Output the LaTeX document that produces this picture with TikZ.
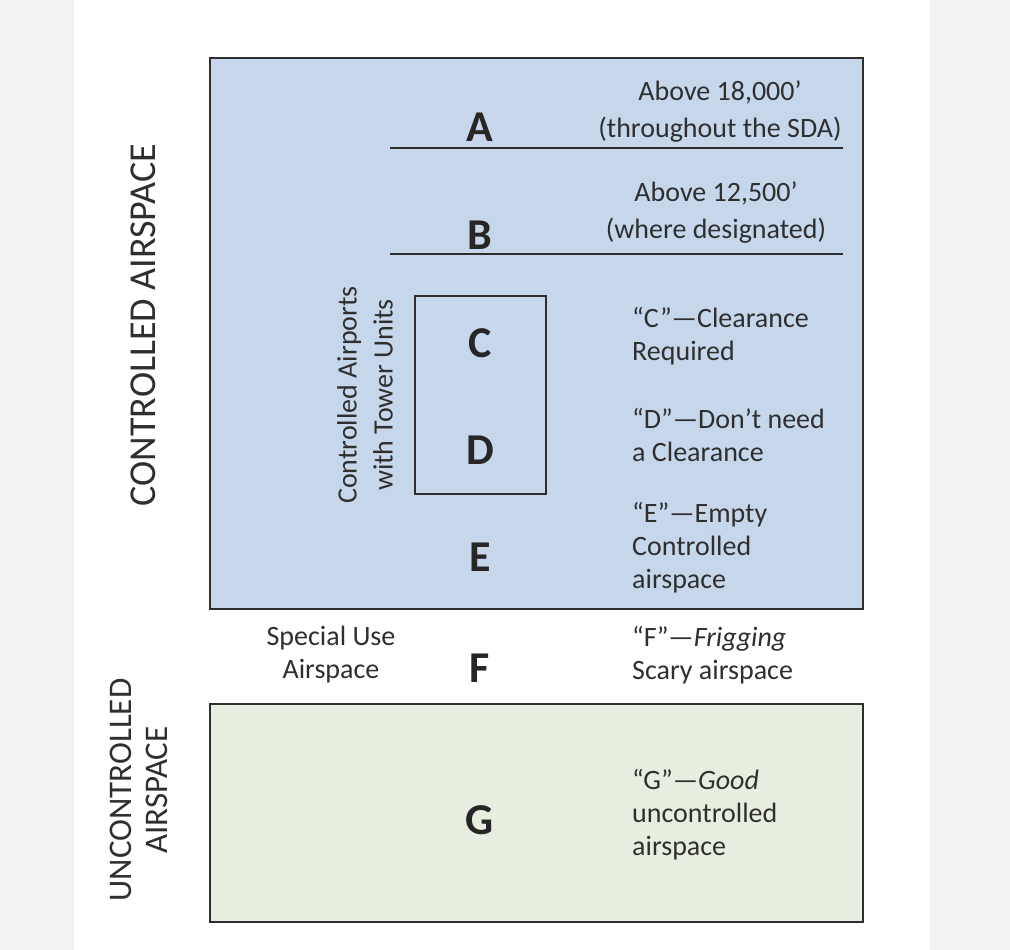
\documentclass[tikz,border=0pt]{standalone}
\usepackage{fontspec}
\setmainfont{Carlito}
\definecolor{pagegray}{HTML}{F1F2F4}
\definecolor{ctrlblue}{HTML}{C6D7EC}
\definecolor{uncgreen}{HTML}{E8EEDF}
\definecolor{inkgray}{HTML}{2F2F2F}
\definecolor{edgegray}{HTML}{2E2E2E}
\begin{document}
\begin{tikzpicture}
[x=1pt, y=-1pt,
 nodes={inner sep=0pt, text=inkgray, font=\fontsize{28}{33}\selectfont},
 letter/.style={font=\fontsize{44}{44}\selectfont\bfseries, text=black!85},
 note/.style={anchor=west, align=left},
 band/.style={line width=1.6pt, draw=edgegray},
 sideword/.style={rotate=90, align=center, font=\fontsize{38}{40}\selectfont}]
% page and margins
\fill[pagegray] (0,0) rectangle (1010,950);
\fill[white] (74,0) rectangle (930,950);

% controlled and uncontrolled blocks
\draw[band, fill=ctrlblue] (210,58) rectangle (863,609);
\draw[band, fill=uncgreen] (210,704) rectangle (863,922);
\draw[band] (390,148) -- (843,148);
\draw[band] (390,254) -- (843,254);
\draw[band] (415,296) rectangle (546,494);

% class letters
\node (classA) at (480,127) [letter] {A};
\node (classB) at (480,235) [letter] {B};
\node (classC) at (480,343) [letter] {C};
\node (classD) at (480,450) [letter] {D};
\node (classE) at (480,557) [letter] {E};
\node (classF) at (480,668) [letter] {F};
\node (classG) at (480,820) [letter] {G};

% notes
\node (noteA) at (720,112) [align=center, font=\fontsize{28}{37}\selectfont] {Above 18,000'\\(throughout the SDA)};
\node (noteB) at (716,213) [align=center, font=\fontsize{28}{37}\selectfont] {Above 12,500'\\(where designated)};
\node (noteC) at (632,336) [note] {“C”---Clearance\\Required};
\node (noteD) at (632,435) [note] {“D”---Don’t need\\a Clearance};
\node (noteE) at (632,548) [note] {“E”---Empty\\Controlled\\airspace};
\node (noteF) at (632,655) [note] {“F”---\textit{Frigging}\\Scary airspace};
\node (noteG) at (632,815) [note] {“G”---\textit{Good}\\uncontrolled\\airspace};
\node (special) at (331,655) [align=center] {Special Use\\Airspace};

% side labels
\node (ctrlword) at (143,325) [sideword] {CONTROLLED AIRSPACE};
\node (uncword) at (139,790) [sideword, font=\fontsize{33}{36}\selectfont] {UNCONTROLLED\\AIRSPACE};
\node (tower) at (365,395) [rotate=90, align=center, font=\fontsize{28}{36}\selectfont] {Controlled Airports\\with Tower Units};
\end{tikzpicture}
\end{document}
